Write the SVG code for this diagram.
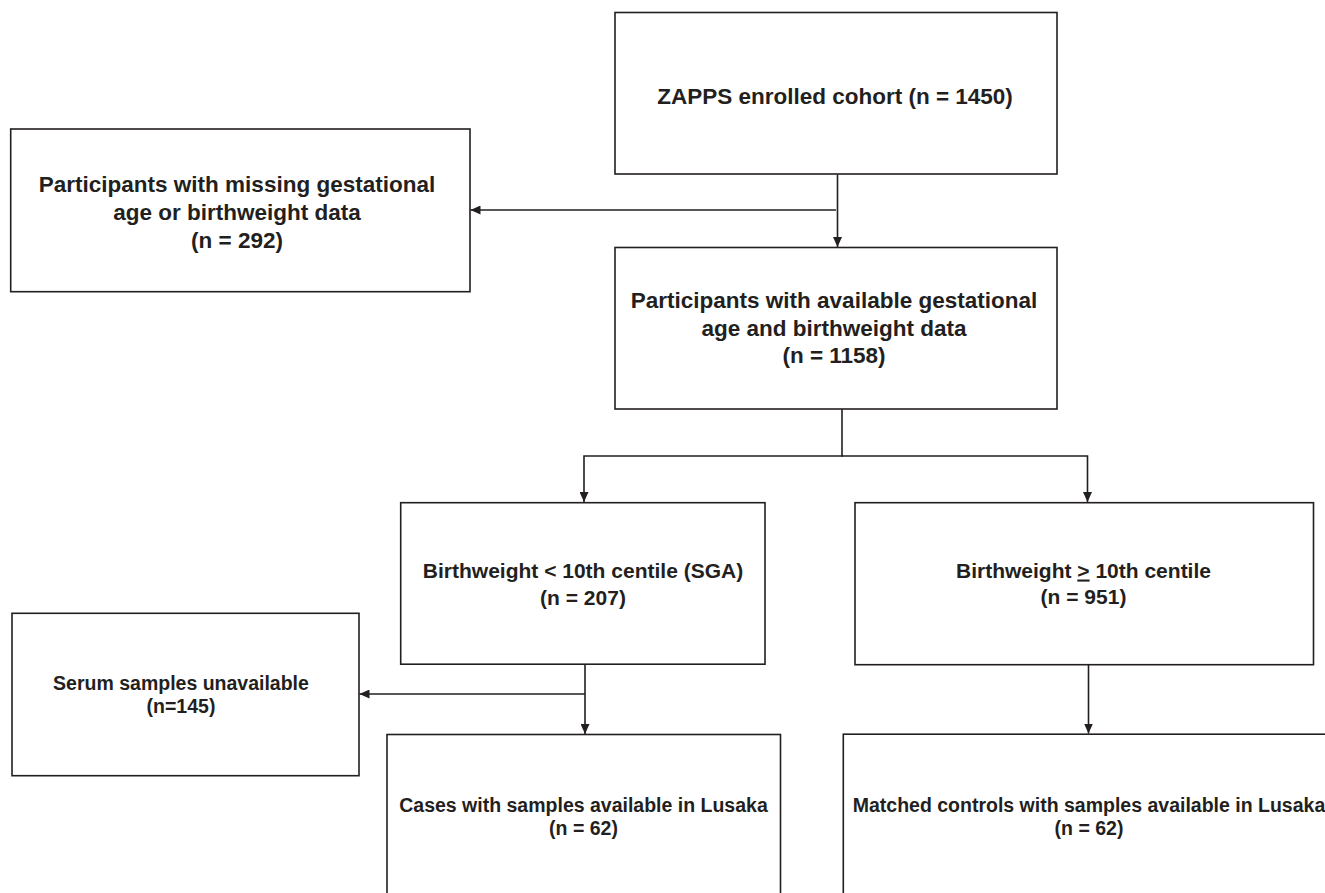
<svg xmlns="http://www.w3.org/2000/svg" width="1325" height="893" viewBox="0 0 1325 893">
<defs>
<style>
.box{fill:#ffffff;stroke:#231f20;stroke-width:1.6}
.t{font-family:"Liberation Sans",Arial,Helvetica,sans-serif;font-weight:bold;fill:#231f20;text-anchor:middle}
.l{font-size:22.5px}
.m{font-size:21px}
.s{font-size:19.5px}
.c{fill:none;stroke:#231f20;stroke-width:1.6}
.a{marker-end:url(#arr)}
</style>
<marker id="arr" markerUnits="userSpaceOnUse" markerWidth="11" markerHeight="9" refX="10" refY="4.5" orient="auto">
<path d="M0,0 L10,4.5 L0,9 z" fill="#231f20"/>
</marker>
</defs>
<rect width="1325" height="893" fill="#ffffff"/>
<g id="connectors">
<path class="c a" d="M837.5,174.5 V247"/>
<path class="c a" d="M836,210 H470.5"/>
<path class="c" d="M842,409 V456"/>
<path class="c a" d="M842.8,456 H584 V502"/>
<path class="c a" d="M841.2,456 H1087.5 V502"/>
<path class="c a" d="M585,664 V734"/>
<path class="c a" d="M585,694 H359.5"/>
<path class="c a" d="M1088.5,665 V733.5"/>
</g>
<g id="n-zapps">
<rect class="box" x="615" y="12.5" width="442" height="161.5"/>
<text class="t l" x="835" y="104">ZAPPS enrolled cohort (n = 1450)</text>
</g>
<g id="n-missing">
<rect class="box" x="10.7" y="129" width="459.3" height="162.7"/>
<text class="t l" x="237" y="192">Participants with missing gestational</text>
<text class="t l" x="237" y="220">age or birthweight data</text>
<text class="t l" x="237" y="248">(n = 292)</text>
</g>
<g id="n-available">
<rect class="box" x="615" y="247.5" width="442" height="161.5"/>
<text class="t l" x="834" y="308">Participants with available gestational</text>
<text class="t l" x="834" y="335.5">age and birthweight data</text>
<text class="t l" x="834" y="363">(n = 1158)</text>
</g>
<g id="n-sga">
<rect class="box" x="400.7" y="502.7" width="364.3" height="161.5"/>
<text class="t m" x="583" y="578">Birthweight &lt; 10th centile (SGA)</text>
<text class="t m" x="583" y="605">(n = 207)</text>
</g>
<g id="n-aga">
<rect class="box" x="855" y="502.7" width="458.5" height="162"/>
<text class="t m" x="1083.5" y="577.5">Birthweight <tspan text-decoration="underline">&gt;</tspan> 10th centile</text>
<text class="t m" x="1083.5" y="604">(n = 951)</text>
</g>
<g id="n-serum">
<rect class="box" x="12" y="613.3" width="347" height="162.4"/>
<text class="t s" x="181" y="690">Serum samples unavailable</text>
<text class="t s" x="181" y="713">(n=145)</text>
</g>
<g id="n-cases">
<rect class="box" x="387" y="734.5" width="393.5" height="170"/>
<text class="t s" x="583.5" y="811.5">Cases with samples available in Lusaka</text>
<text class="t s" x="583.5" y="835">(n = 62)</text>
</g>
<g id="n-controls">
<rect class="box" x="843.3" y="734.2" width="500" height="170"/>
<text class="t s" x="1089" y="811.5">Matched controls with samples available in Lusaka</text>
<text class="t s" x="1089" y="835">(n = 62)</text>
</g>
</svg>
